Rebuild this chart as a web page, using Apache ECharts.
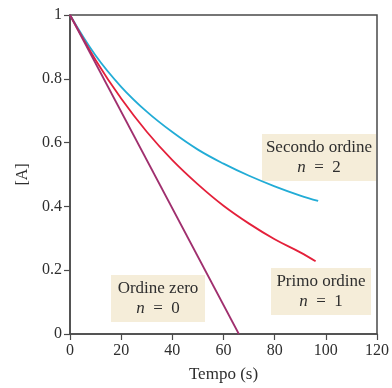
<!DOCTYPE html>
<html><head><meta charset="utf-8">
<script src="https://cdn.jsdelivr.net/npm/echarts@6/dist/echarts.min.js"></script>
<style>html,body{margin:0;padding:0;background:#fff}#c{width:392px;height:388px}</style>
</head><body><div id="c"></div>
<script>
// Data: [time (s), [A]]
var zeroOrder = [[0, 1], [66, 0]];
var firstOrder = [[0, 1], [10, 0.859], [20, 0.738], [30, 0.634], [40, 0.545], [50, 0.469], [60, 0.402], [70, 0.346], [80, 0.297], [90, 0.256], [96, 0.228]];
var secondOrder = [[0, 1], [10, 0.873], [20, 0.775], [30, 0.697], [40, 0.633], [50, 0.578], [60, 0.534], [70, 0.496], [80, 0.463], [90, 0.434], [97, 0.417]];
var xTicks = [0, 20, 40, 60, 80, 100, 120];
var yTicks = [0, 0.2, 0.4, 0.6, 0.8, 1];
var labels = [
  {title: 'Secondo ordine', n: '2'},
  {title: 'Primo ordine', n: '1'},
  {title: 'Ordine zero', n: '0'}
];

var serif = '"Liberation Serif", "DejaVu Serif", serif';
var axisColor = '#4a4a4a';
var chart = echarts.init(document.getElementById('c'));

function boxGraphic(lbl, cx, top, w, h) {
  return {
    type: 'group', left: cx - w / 2, top: top,
    children: [
      {type: 'rect', shape: {x: 0, y: 0, width: w, height: h}, style: {fill: '#f5edd9'}},
      {type: 'text', style: {x: w / 2, y: 5, text: lbl.title, font: '17px ' + serif, fill: '#2e2e2e', align: 'center', verticalAlign: 'top'}},
      {type: 'text', style: {x: w / 2, y: 25, text: '{i|n}  =  ' + lbl.n, font: '17px ' + serif, fill: '#2e2e2e', align: 'center', verticalAlign: 'top',
        rich: {i: {fontStyle: 'italic', fontFamily: serif, fontSize: 17, fill: '#2e2e2e'}}}}
    ]
  };
}

chart.setOption({
  animation: false,
  backgroundColor: '#fff',
  grid: {left: 70, top: 15, right: 10, bottom: 52, show: true, borderColor: axisColor, borderWidth: 1.5, backgroundColor: 'transparent'},
  xAxis: {
    type: 'value', min: xTicks[0], max: xTicks[xTicks.length - 1], interval: 20,
    name: 'Tempo (s)', nameLocation: 'middle', nameGap: 32,
    nameTextStyle: {fontFamily: serif, fontSize: 17, color: '#2e2e2e'},
    axisLine: {show: true, onZero: false, lineStyle: {color: axisColor, width: 1.5}},
    axisTick: {show: true, inside: false, length: 6, lineStyle: {color: axisColor, width: 1.2}},
    axisLabel: {fontFamily: serif, fontSize: 16, color: '#2e2e2e', margin: 9},
    splitLine: {show: false}
  },
  yAxis: {
    type: 'value', min: yTicks[0], max: yTicks[yTicks.length - 1], interval: 0.2,
    name: '[A]', nameLocation: 'middle', nameGap: 34, nameRotate: 90,
    nameTextStyle: {fontFamily: serif, fontSize: 16, color: '#2e2e2e'},
    axisLine: {show: true, onZero: false, lineStyle: {color: axisColor, width: 1.5}},
    axisTick: {show: true, inside: false, length: 6, lineStyle: {color: axisColor, width: 1.2}},
    axisLabel: {fontFamily: serif, fontSize: 16, color: '#2e2e2e', margin: 8},
    splitLine: {show: false}
  },
  series: [
    {type: 'line', data: secondOrder, smooth: 0.4, showSymbol: false, lineStyle: {color: '#22acd6', width: 1.8}},
    {type: 'line', data: firstOrder, smooth: 0.4, showSymbol: false, lineStyle: {color: '#e4203a', width: 1.8}},
    {type: 'line', data: zeroOrder, showSymbol: false, lineStyle: {color: '#a02f6e', width: 1.8}}
  ],
  graphic: [
    boxGraphic(labels[0], 319, 134, 114, 47),
    boxGraphic(labels[1], 321, 268, 100, 47),
    boxGraphic(labels[2], 158, 275, 94, 47)
  ]
});
</script>
</body></html>
